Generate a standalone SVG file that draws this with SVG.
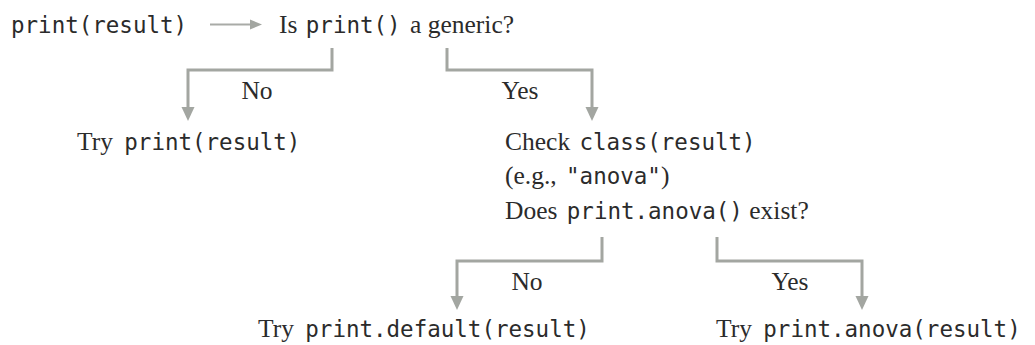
<svg xmlns="http://www.w3.org/2000/svg" width="1035" height="345" viewBox="0 0 1035 345">
<style>
.s{font-family:"Liberation Serif","DejaVu Serif",serif;font-size:25.5px;fill:#2b2b2b}
.m{font-family:"DejaVu Sans Mono","Liberation Mono",monospace;font-size:22.5px;fill:#2b2b2b}
.c{fill:none;stroke:#a3a6a1;stroke-width:3}
.h{fill:#a3a6a1}
.lbl{text-anchor:middle}
</style>
<rect width="1035" height="345" fill="#ffffff"/>
<g id="connectors">
<line x1="210" y1="24.5" x2="252" y2="24.5" stroke="#a9aba7" stroke-width="2"/>
<polygon class="h" points="250,19.5 262,24.5 250,29.5"/>
<path class="c" d="M332,48 V70 H188 V108"/>
<polygon class="h" points="181.5,107 194.5,107 188,121"/>
<path class="c" d="M447,48 V70 H592 V108"/>
<polygon class="h" points="585.5,107 598.5,107 592,121"/>
<path class="c" d="M602,237 V261 H457 V297"/>
<polygon class="h" points="450.5,296 463.5,296 457,310"/>
<path class="c" d="M717,237 V261 H862 V297"/>
<polygon class="h" points="855.5,296 868.5,296 862,310"/>
<text class="s lbl" x="257" y="99">No</text>
<text class="s lbl" x="520" y="99">Yes</text>
<text class="s lbl" x="527" y="290">No</text>
<text class="s lbl" x="790" y="290">Yes</text>
</g>
<g id="start"><text class="m" x="11" y="33">print(result)</text></g>
<g id="q1"><text x="279" y="33"><tspan class="s">Is </tspan><tspan class="m" dx="2">print()</tspan><tspan class="s" dx="3"> a generic?</tspan></text></g>
<g id="try-print"><text x="77" y="150"><tspan class="s">Try </tspan><tspan class="m" dx="5">print(result)</tspan></text></g>
<g id="q2">
<text x="505" y="150"><tspan class="s">Check </tspan><tspan class="m" dx="3">class(result)</tspan></text>
<text x="505" y="184"><tspan class="s">(e.g., </tspan><tspan class="m" dx="3">"anova"</tspan><tspan class="s">)</tspan></text>
<text x="505" y="219"><tspan class="s">Does </tspan><tspan class="m" dx="3">print.anova()</tspan><tspan class="s"> exist?</tspan></text>
</g>
<g id="try-default"><text x="258" y="337"><tspan class="s">Try </tspan><tspan class="m" dx="5">print.default(result)</tspan></text></g>
<g id="try-anova"><text x="716" y="337"><tspan class="s">Try </tspan><tspan class="m" dx="5">print.anova(result)</tspan></text></g>
</svg>
